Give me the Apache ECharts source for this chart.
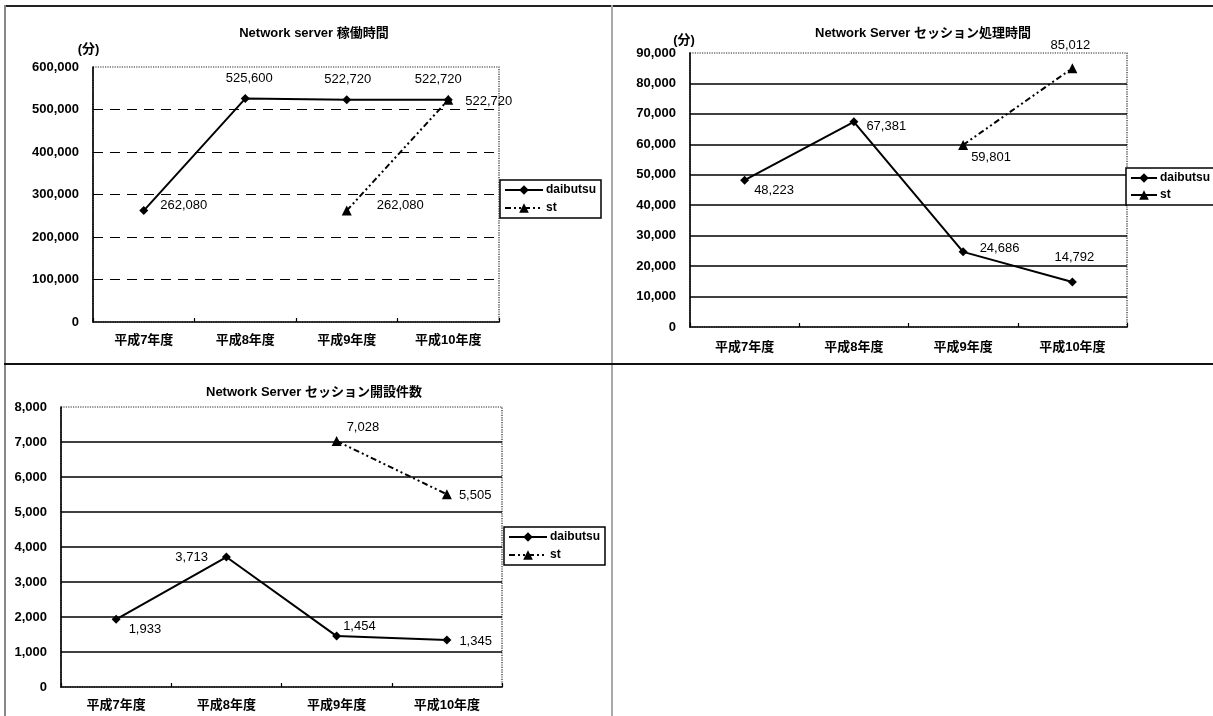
<!DOCTYPE html>
<html>
<head>
<meta charset="utf-8">
<script src="https://cdn.jsdelivr.net/npm/echarts@6/dist/echarts.min.js"></script>
<style>
  html, body { margin: 0; padding: 0; background: #fff; width: 1213px; height: 716px; overflow: hidden; }
  .ch { position: absolute; left: 0; top: 0; width: 1213px; height: 716px; }
  .ln { position: absolute; }
</style>
</head>
<body>
<!-- sheet frame lines -->
<div class="ln" style="left:5px;top:5px;width:1208px;height:2px;background:#222"></div>
<div class="ln" style="left:4px;top:5px;width:2px;height:711px;background:#888"></div>
<div class="ln" style="left:611px;top:5px;width:2px;height:711px;background:#aaa"></div>
<div class="ln" style="left:4px;top:363px;width:1209px;height:2px;background:#111"></div>
<div id="c1" class="ch"></div>
<div id="c2" class="ch"></div>
<div id="c3" class="ch"></div>
<script>
// fiscal years on the category axis
const years = ['平成7年度', '平成8年度', '平成9年度', '平成10年度'];
const seriesNames = ['daibutsu', 'st'];

// Network server 稼働時間 (分)
const uptimeDaibutsu = [262080, 525600, 522720, 522720];
const uptimeSt = [null, null, 262080, 522720];

// Network Server セッション処理時間 (分)
const sessionTimeDaibutsu = [48223, 67381, 24686, 14792];
const sessionTimeSt = [null, null, 59801, 85012];

// Network Server セッション開設件数
const sessionCountDaibutsu = [1933, 3713, 1454, 1345];
const sessionCountSt = [null, null, 7028, 5505];

const FONT = "'Liberation Sans', 'Noto Sans CJK JP', sans-serif";
const fmt = v => Number(v).toLocaleString('en-US');
const dashDotDot = [6, 3, 2, 3, 2, 3];

// label placement for each point: [position, distance, offsetX, offsetY]
function withLabels(values, places) {
  return values.map((v, i) => {
    if (v === null) return null;
    const p = places[i];
    return {
      value: v,
      label: { show: true, position: p[0], distance: p[1], offset: [p[2], p[3]] }
    };
  });
}

function makeChart(el, cfg) {
  const chart = echarts.init(document.getElementById(el), null, { renderer: 'canvas' });
  const legendData = cfg.legendSolidSt
    ? ['daibutsu', { name: 'st', lineStyle: { type: 'solid' } }]
    : seriesNames;
  chart.setOption({
    animation: false,
    backgroundColor: 'transparent',
    title: {
      text: cfg.title,
      left: cfg.titleX, top: cfg.titleY,
      textAlign: 'center',
      textStyle: { fontFamily: FONT, fontSize: 13, fontWeight: 'bold', color: '#000' }
    },
    legend: {
      data: legendData,
      orient: 'vertical',
      left: cfg.legend[0], top: cfg.legend[1],
      padding: [4, 5, 4, 4],
      itemGap: cfg.legend[3],
      itemWidth: cfg.legend[2],
      itemHeight: 12,
      backgroundColor: '#fff',
      borderColor: '#000',
      borderWidth: 1.5,
      borderRadius: 0,
      textStyle: { fontFamily: FONT, fontSize: 12, fontWeight: 'bold', color: '#000', padding: [0, 0, 0, -2] },
      selectedMode: false
    },
    grid: {
      left: cfg.grid[0], right: cfg.grid[1], top: cfg.grid[2], bottom: cfg.grid[3],
      show: true, borderType: 'dotted', borderColor: '#222', borderWidth: 1.2,
      backgroundColor: 'transparent'
    },
    xAxis: {
      type: 'category',
      data: years,
      boundaryGap: true,
      axisLine: { show: true, lineStyle: { color: '#000', width: 1.6 } },
      axisTick: { show: true, inside: true, length: 4, lineStyle: { color: '#000', width: 1.2 } },
      axisLabel: { margin: cfg.xLabelMargin, fontFamily: FONT, fontSize: 13, fontWeight: 'bold', color: '#000' },
      splitLine: { show: false }
    },
    yAxis: {
      type: 'value',
      min: 0, max: cfg.yMax, interval: cfg.yStep,
      name: cfg.yName,
      nameLocation: 'end',
      nameGap: cfg.yNameGap,
      nameTextStyle: { fontFamily: FONT, fontSize: 13, fontWeight: 'bold', color: '#000', padding: [0, cfg.yNameShift, 0, 0] },
      axisLine: { show: true, lineStyle: { color: '#000', width: 1.6 } },
      axisTick: { show: false },
      axisLabel: { margin: 14, fontFamily: FONT, fontSize: 13, fontWeight: 'bold', color: '#000', formatter: fmt },
      splitLine: {
        show: true, showMinLine: false, showMaxLine: false,
        lineStyle: { color: '#000', width: cfg.dashedGrid ? 1.2 : 1.5, type: cfg.dashedGrid ? [10, 7] : 'solid' }
      }
    },
    series: [
      {
        name: 'daibutsu', type: 'line',
        data: withLabels(cfg.daibutsu, cfg.daibutsuLabels),
        symbol: 'diamond', symbolSize: 9,
        itemStyle: { color: '#000' },
        lineStyle: { color: '#000', width: 2, type: 'solid' },
        label: { formatter: p => fmt(p.value), fontFamily: FONT, fontSize: 13, color: '#000' },
        z: 3
      },
      {
        name: 'st', type: 'line',
        data: withLabels(cfg.st, cfg.stLabels),
        symbol: 'triangle', symbolSize: 10,
        itemStyle: { color: '#000' },
        lineStyle: { color: '#000', width: 2, type: dashDotDot },
        label: { formatter: p => fmt(p.value), fontFamily: FONT, fontSize: 13, color: '#000' },
        z: 4
      }
    ]
  });
  return chart;
}

makeChart('c1', {
  title: 'Network server 稼働時間', titleX: 309, titleY: 22,
  grid: [93, 714, 67, 394],
  legend: [500, 180, 38, 6],
  xLabelMargin: 12,
  yMax: 600000, yStep: 100000,
  yName: '(分)', yNameGap: 11, yNameShift: 9,
  dashedGrid: true,
  daibutsu: uptimeDaibutsu,
  daibutsuLabels: [['right', 12, 0, -5], ['top', 9, 4, 0], ['top', 9, 1, 0], ['top', 9, -10, 0]],
  st: uptimeSt,
  stLabels: [null, null, ['right', 25, 0, -5], ['right', 12, 0, 2]]
});

makeChart('c2', {
  title: 'Network Server セッション処理時間', titleX: 918, titleY: 22,
  grid: [690, 86, 53, 389],
  legend: [1126, 168, 26, 5],
  legendSolidSt: true,
  xLabelMargin: 14,
  yMax: 90000, yStep: 10000,
  yName: '(分)', yNameGap: 6, yNameShift: 12,
  dashedGrid: false,
  daibutsu: sessionTimeDaibutsu,
  daibutsuLabels: [['right', 5, 0, 10], ['right', 8, 0, 5], ['right', 12, 0, -3], ['top', 14, 2, 0]],
  st: sessionTimeSt,
  stLabels: [null, null, ['right', 3, 0, 12], ['top', 11, -2, 0]]
});

makeChart('c3', {
  title: 'Network Server セッション開設件数', titleX: 309, titleY: 381,
  grid: [61, 711, 407, 29],
  legend: [504, 527, 38, 6],
  xLabelMargin: 12,
  yMax: 8000, yStep: 1000,
  yName: '', yNameGap: 10, yNameShift: 0,
  dashedGrid: false,
  daibutsu: sessionCountDaibutsu,
  daibutsuLabels: [['right', 8, 0, 10], ['left', 14, 0, 0], ['right', 2, 0, -10], ['right', 8, 0, 1]],
  st: sessionCountSt,
  stLabels: [null, null, ['right', 5, 0, -14], ['right', 7, 0, 1]]
});
</script>
</body>
</html>
